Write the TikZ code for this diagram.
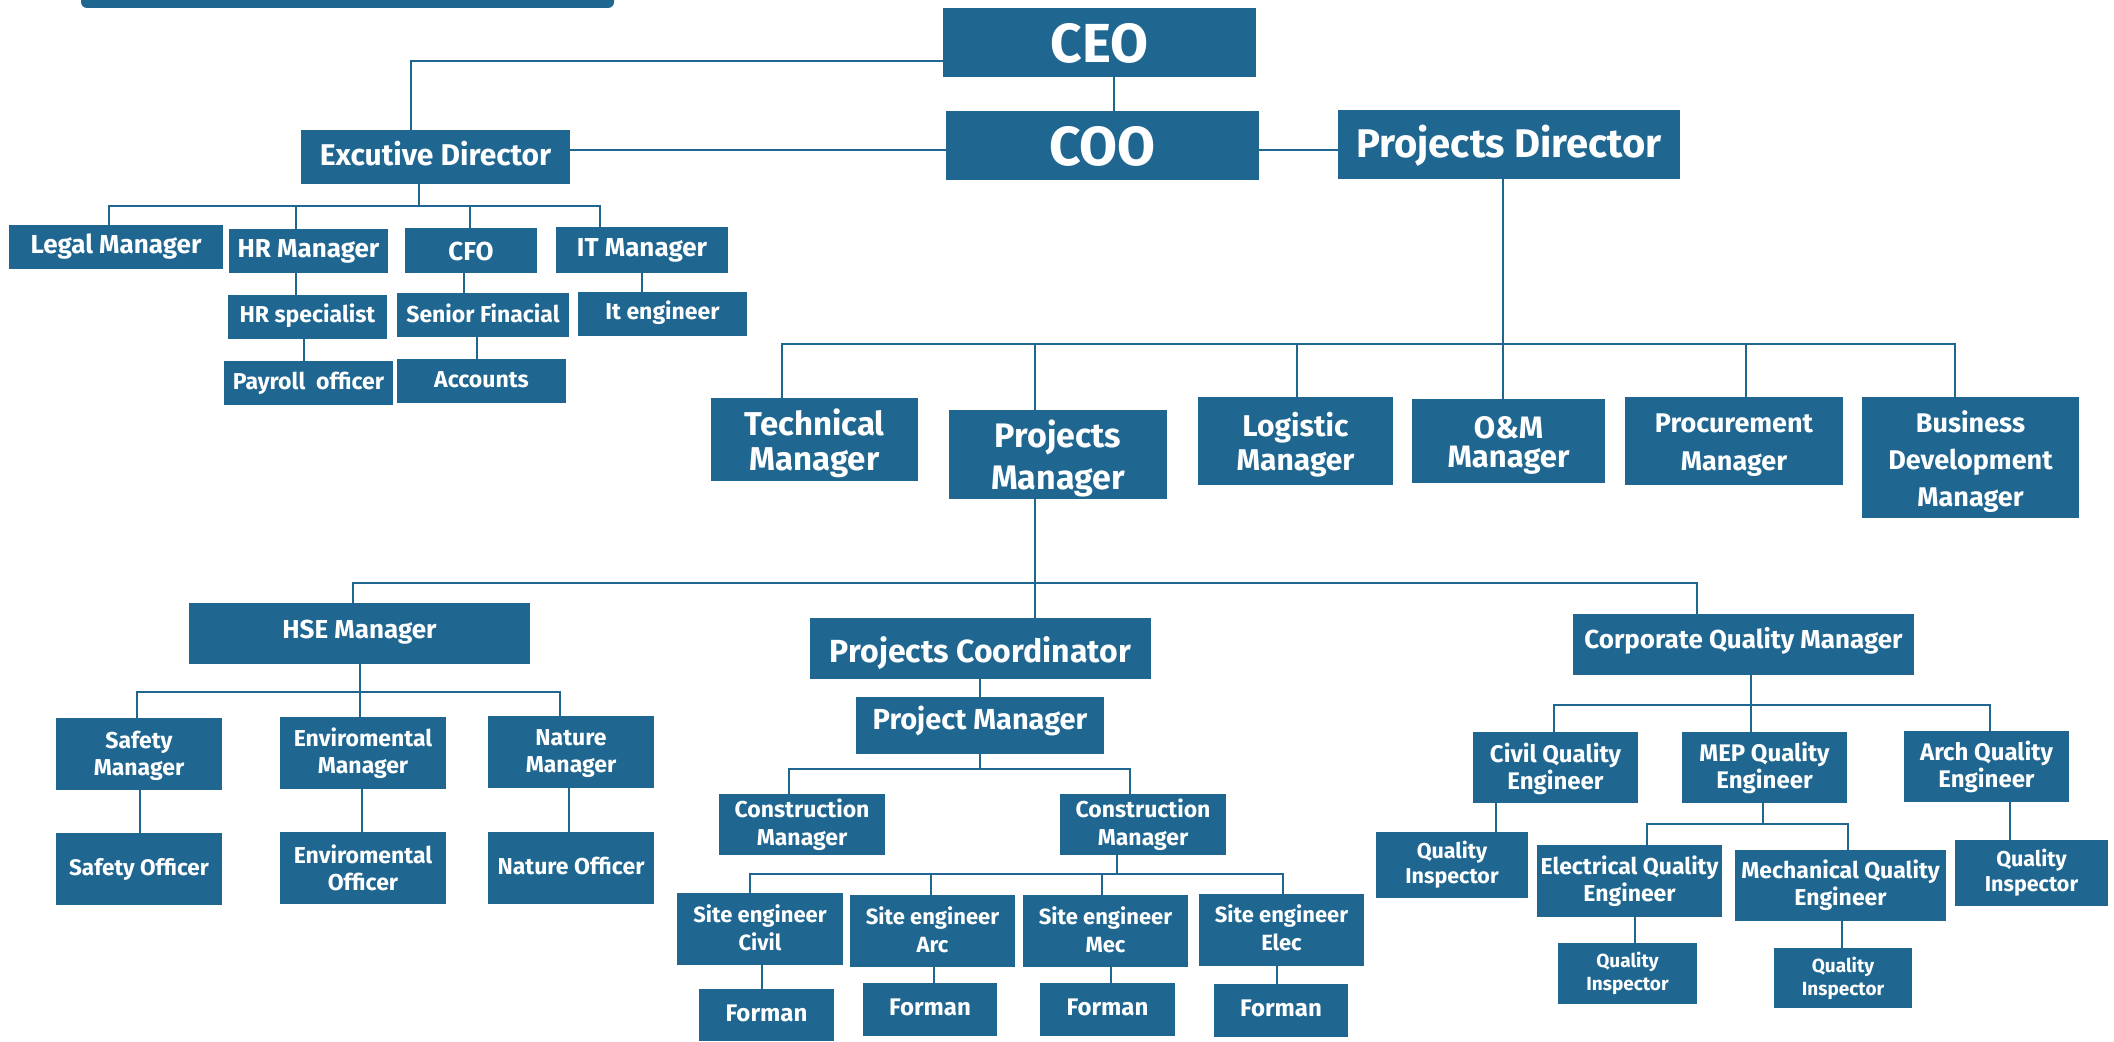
\documentclass[tikz,border=0pt]{standalone}
\usepackage{fontspec}
\setmainfont{Fira Sans}
\definecolor{orgblue}{RGB}{31,103,145}
\tikzset{
  box/.style={fill=orgblue, inner sep=0pt},
  boxtext/.style={text=white, inner sep=0pt, align=center},
  conn/.style={draw=orgblue, line width=2.6pt}
}
% name, x1, y1, x2, y2, size, skip, text, text offset (down)
\newcommand\orgbox[9]{%
  \node[box, minimum width={(#4-#2)*1pt}, minimum height={(#5-#3)*1pt}]
        (#1) at ({(#2+#4)/2},{(#3+#5)/2}) {};
  \node[boxtext, font=\fontsize{#6}{#7}\selectfont\bfseries]
        (#1-t) at ({(#2+#4)/2},{(#3+#5)/2+#9}) {#8};}
% drop from a bus point to a node's top
\newcommand\orgdrop[3]{\coordinate (#1-d) at (#2,#3); \draw[conn] (#1-d) -- (#1.north -| #1-d);}
% vertical line from one node to the one below it
\newcommand\orgvl[3]{\coordinate (#1-#2) at (#3,0); \draw[conn] (#1.south -| #1-#2) -- (#2.north -| #1-#2);}
\begin{document}
\begin{tikzpicture}[x=1pt,y=-1pt]
\useasboundingbox (0,0) rectangle (2114,1041);
\begin{scope}
  \clip (0,0) rectangle (2114,1041);
  \fill[orgblue, rounded corners=6pt] (81,-20) rectangle (614,8);
\end{scope}

% top level
\orgbox{ceo}{943}{8}{1256}{77}{55}{60}{CEO}{1}
\orgbox{coo}{946}{111}{1259}{180}{55}{60}{COO}{1}
\orgbox{pd}{1338}{110}{1680}{179}{40}{44}{Projects Director}{1}
\orgbox{exec}{301}{130}{570}{184}{30}{34}{Excutive Director}{-3}

% executive branch
\orgbox{legal}{9}{225}{223}{269}{26}{30}{Legal Manager}{0}
\orgbox{hrm}{229}{229}{388}{273}{26}{30}{HR Manager}{0}
\orgbox{cfo}{405}{228}{537}{273}{26}{30}{CFO}{1}
\orgbox{itm}{556}{227}{728}{273}{26}{30}{IT Manager}{0}
\orgbox{hrs}{228}{295}{387}{339}{23}{27}{HR specialist}{-1}
\orgbox{sf}{397}{293}{569}{337}{23}{27}{Senior Finacial}{-2}
\orgbox{ite}{578}{292}{747}{336}{23}{27}{It engineer}{-1}
\orgbox{pay}{224}{361}{393}{405}{23}{27}{Payroll\ \ officer}{0}
\orgbox{acc}{397}{359}{566}{403}{23}{27}{Accounts}{-1}

% projects director branch
\orgbox{tm}{711}{398}{918}{481}{33}{35}{Technical\\Manager}{4}
\orgbox{pm}{949}{410}{1167}{499}{34}{42}{Projects\\Manager}{4}
\orgbox{lm}{1198}{397}{1393}{485}{30}{34}{Logistic\\Manager}{4}
\orgbox{om}{1412}{399}{1605}{483}{31}{29}{O\&M\\Manager}{4}
\orgbox{prc}{1625}{397}{1843}{485}{27}{38}{Procurement\\Manager}{4}
\orgbox{bd}{1862}{397}{2079}{518}{27}{37}{Business\\Development\\Manager}{4}

% HSE
\orgbox{hse}{189}{603}{530}{664}{26}{30}{HSE Manager}{-1}
\orgbox{sm}{56}{718}{222}{790}{23}{27}{Safety\\Manager}{2}
\orgbox{em}{280}{717}{446}{789}{23}{27}{Enviromental\\Manager}{0}
\orgbox{nm}{488}{716}{654}{788}{23}{27}{Nature\\Manager}{2}
\orgbox{so}{56}{833}{222}{905}{22.5}{27}{Safety Officer}{0}
\orgbox{eo}{280}{832}{446}{904}{23}{27}{Enviromental\\Officer}{0}
\orgbox{no}{488}{832}{654}{904}{23}{27}{Nature Officer}{-2}

% projects coordinator
\orgbox{pc}{810}{618}{1151}{679}{32}{36}{Projects Coordinator}{5}
\orgbox{prm}{856}{697}{1104}{754}{29}{33}{Project Manager}{-5}
\orgbox{cma}{719}{794}{885}{855}{23}{28}{Construction\\Manager}{0}
\orgbox{cmb}{1060}{794}{1226}{855}{23}{28}{Construction\\Manager}{0}
\orgbox{sec}{677}{893}{843}{965}{22}{28}{Site engineer\\Civil}{-1}
\orgbox{sea}{850}{895}{1015}{967}{22}{28}{Site engineer\\Arc}{-1}
\orgbox{sem}{1023}{895}{1188}{967}{22}{28}{Site engineer\\Mec}{-1}
\orgbox{see}{1199}{894}{1364}{966}{22}{28}{Site engineer\\Elec}{-2}
\orgbox{fc}{699}{989}{834}{1041}{24}{28}{Forman}{-2}
\orgbox{fa}{863}{983}{997}{1036}{24}{28}{Forman}{-2}
\orgbox{fm}{1040}{983}{1175}{1036}{24}{28}{Forman}{-2}
\orgbox{fe}{1214}{984}{1348}{1037}{24}{28}{Forman}{-2}

% quality
\orgbox{cqm}{1573}{614}{1914}{675}{26}{30}{Corporate Quality Manager}{-4}
\orgbox{cqe}{1473}{732}{1638}{803}{24}{27}{Civil Quality\\Engineer}{1}
\orgbox{mqe}{1682}{732}{1847}{803}{24}{27}{MEP Quality\\Engineer}{0}
\orgbox{aqe}{1904}{731}{2069}{802}{24}{27}{Arch Quality\\Engineer}{0}
\orgbox{qia}{1376}{832}{1528}{898}{21.5}{25}{Quality\\Inspector}{0}
\orgbox{eqe}{1537}{845}{1722}{917}{23}{27}{Electrical Quality\\Engineer}{0}
\orgbox{mcq}{1735}{850}{1946}{921}{23}{27}{Mechanical Quality\\Engineer}{0}
\orgbox{qid}{1955}{840}{2108}{906}{21.5}{25}{Quality\\Inspector}{0}
\orgbox{qib}{1558}{943}{1697}{1004}{19}{23}{Quality\\Inspector}{0}
\orgbox{qic}{1774}{948}{1912}{1008}{19}{23}{Quality\\Inspector}{0}

% ---- connectors ----
\coordinate (ce) at (411,61);
\draw[conn] (ceo.west |- ce) -- (ce) -- (exec.north -| ce);
\coordinate (k1) at (1114,0);
\draw[conn] (ceo.south -| k1) -- (coo.north -| k1);
\coordinate (cl) at (0,150);
\draw[conn] (exec.east |- cl) -- (coo.west |- cl);
\draw[conn] (coo.east |- cl) -- (pd.west |- cl);

% projects director bus
\coordinate (pdb) at (1503,344);
\draw[conn] (pd.south -| pdb) -- (om.north -| pdb);
\coordinate (bl) at (782,344); \coordinate (br) at (1955,344);
\draw[conn] (tm.north -| bl) -- (bl) -- (br) -- (bd.north -| br);
\orgdrop{pm}{1035}{344}
\orgdrop{lm}{1297}{344}
\orgdrop{prc}{1746}{344}

% executive bus
\coordinate (eb) at (419,206);
\draw[conn] (exec.south -| eb) -- (eb);
\coordinate (ebl) at (109,206); \coordinate (ebr) at (600,206);
\draw[conn] (legal.north -| ebl) -- (ebl) -- (ebr) -- (itm.north -| ebr);
\orgdrop{hrm}{296}{206}
\orgdrop{cfo}{470}{206}
\orgvl{hrm}{hrs}{296}
\orgvl{hrs}{pay}{304}
\orgvl{cfo}{sf}{464}
\orgvl{sf}{acc}{477}
\orgvl{itm}{ite}{642}

% projects manager bus
\coordinate (pmb) at (1035,583);
\draw[conn] (pm.south -| pmb) -- (pc.north -| pmb);
\coordinate (pml) at (353,583); \coordinate (pmr) at (1697,583);
\draw[conn] (hse.north -| pml) -- (pml) -- (pmr) -- (cqm.north -| pmr);

% HSE
\coordinate (hb) at (360,692);
\draw[conn] (hse.south -| hb) -- (em.north -| hb);
\coordinate (hl) at (137,692); \coordinate (hr) at (560,692);
\draw[conn] (sm.north -| hl) -- (hl) -- (hr) -- (nm.north -| hr);
\orgvl{sm}{so}{140}
\orgvl{em}{eo}{362}
\orgvl{nm}{no}{569}

% coordinator
\orgvl{pc}{prm}{980}
\coordinate (prb) at (980,769);
\draw[conn] (prm.south -| prb) -- (prb);
\coordinate (prl) at (789,769); \coordinate (prr) at (1130,769);
\draw[conn] (cma.north -| prl) -- (prl) -- (prr) -- (cmb.north -| prr);
\coordinate (cbb) at (1117,874);
\draw[conn] (cmb.south -| cbb) -- (cbb);
\coordinate (cbl) at (750,874); \coordinate (cbr) at (1283,874);
\draw[conn] (sec.north -| cbl) -- (cbl) -- (cbr) -- (see.north -| cbr);
\orgdrop{sea}{931}{874}
\orgdrop{sem}{1102}{874}
\orgvl{sec}{fc}{762}
\orgvl{sea}{fa}{934}
\orgvl{sem}{fm}{1111}
\orgvl{see}{fe}{1277}

% quality
\coordinate (qb) at (1751,705);
\draw[conn] (cqm.south -| qb) -- (mqe.north -| qb);
\coordinate (ql) at (1554,705); \coordinate (qr) at (1990,705);
\draw[conn] (cqe.north -| ql) -- (ql) -- (qr) -- (aqe.north -| qr);
\orgvl{cqe}{qia}{1496}
\orgvl{aqe}{qid}{2010}
\coordinate (mb) at (1763,824);
\draw[conn] (mqe.south -| mb) -- (mb);
\coordinate (ml) at (1647,824); \coordinate (mr) at (1848,824);
\draw[conn] (eqe.north -| ml) -- (ml) -- (mr) -- (mcq.north -| mr);
\orgvl{eqe}{qib}{1635}
\orgvl{mcq}{qic}{1842}
\end{tikzpicture}
\end{document}
